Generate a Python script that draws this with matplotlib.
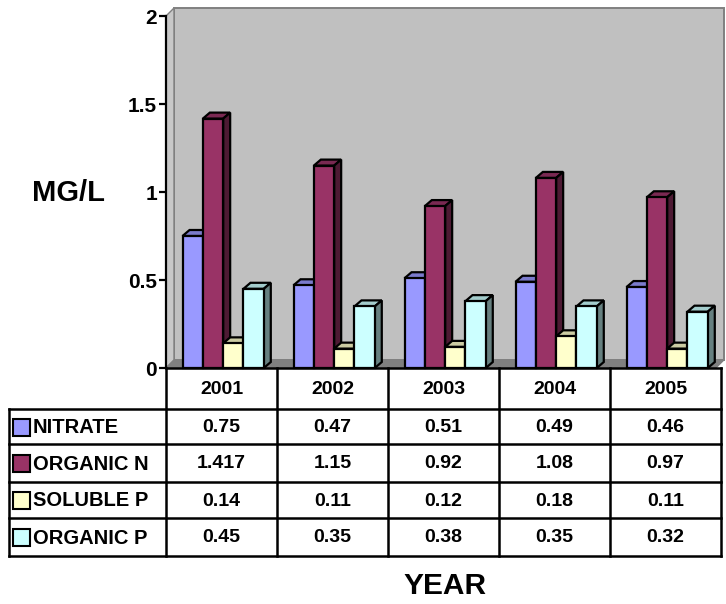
import matplotlib
matplotlib.use("Agg")
import matplotlib.pyplot as plt
from matplotlib.patches import Polygon, Rectangle
import matplotlib.transforms as mtransforms

plt.rcParams['font.family'] = ['Liberation Sans', 'DejaVu Sans']
plt.rcParams['font.weight'] = 'bold'

# ---- data -------------------------------------------------------------
years = ['2001', '2002', '2003', '2004', '2005']
series_names = ['NITRATE', 'ORGANIC N', 'SOLUBLE P', 'ORGANIC P']
nitrate = [0.75, 0.47, 0.51, 0.49, 0.46]
organic_n = [1.417, 1.15, 0.92, 1.08, 0.97]
soluble_p = [0.14, 0.11, 0.12, 0.18, 0.11]
organic_p = [0.45, 0.35, 0.38, 0.35, 0.32]
y_ticks = [0, 0.5, 1, 1.5, 2]

series_values = [nitrate, organic_n, soluble_p, organic_p]

# front / top / side shades for each series
front_cols = ['#9999FF', '#993366', '#FFFFCC', '#CCFFFF']
top_cols = ['#7A7ACC', '#7A2952', '#CCCCA3', '#A3CCCC']
side_cols = ['#4D4D80', '#4D1A33', '#808066', '#668080']

W, H = 726, 604
fig = plt.figure(figsize=(W / 100, H / 100), dpi=100)
fig.patch.set_facecolor('white')

# main plotting axes (front plane of the 3-D box)
ax_left, ax_right = 166, 721
ax_bottom, ax_top = 368, 16
ax = fig.add_axes([ax_left / W, 1 - ax_bottom / H,
                   (ax_right - ax_left) / W, (ax_bottom - ax_top) / H])
ax.set_xlim(-0.5, 4.5)
ax.set_ylim(0, 2)
ax.patch.set_visible(False)

px_x = (ax_right - ax_left) / 5.0      # pixels per category
px_y = (ax_bottom - ax_top) / 2.0      # pixels per unit

# wall / floor depth and bar depth, in data units
wdx, wdy = 8 / px_x, 8 / px_y
bdx, bdy = 7 / px_x, 6 / px_y
x0 = -0.5
x1 = -0.5 + (716 - ax_left) / px_x

# back wall, side wall and floor
ax.add_patch(Polygon([(x0 + wdx, wdy), (x1 + wdx, wdy), (x1 + wdx, 2 + wdy),
                      (x0 + wdx, 2 + wdy)], closed=True, facecolor='#C0C0C0',
                     edgecolor='#808080', lw=1.4, zorder=0.5, clip_on=False))
ax.add_patch(Polygon([(x0, 0), (x0, 2), (x0 + wdx, 2 + wdy), (x0 + wdx, wdy)],
                     closed=True, facecolor='#C8C8C8', edgecolor='#808080',
                     lw=1.0, zorder=0.6, clip_on=False))
ax.add_patch(Polygon([(x0, 0), (x1, 0), (x1 + wdx, wdy), (x0 + wdx, wdy)],
                     closed=True, facecolor='#808080', edgecolor='#808080',
                     lw=0.8, zorder=0.7, clip_on=False))

# 3-D columns
bar_w = 0.183
offset = 0.015
edge_lw = 1.6
for j, vals in enumerate(series_values):
    xs = [i + offset + (j - 1.5) * bar_w for i in range(len(years))]
    base_z = 3 + 2 * j
    bars = ax.bar(xs, vals, width=bar_w, color=front_cols[j],
                  edgecolor='black', linewidth=edge_lw, zorder=base_z + 1,
                  clip_on=False)
    for rect in bars:
        xl = rect.get_x()
        xr = xl + rect.get_width()
        h = rect.get_height()
        ax.add_patch(Polygon([(xl, h), (xr, h), (xr + bdx, h + bdy),
                              (xl + bdx, h + bdy)], closed=True,
                             facecolor=top_cols[j], edgecolor='black',
                             lw=edge_lw, zorder=base_z, clip_on=False))
        ax.add_patch(Polygon([(xr, 0), (xr, h), (xr + bdx, h + bdy),
                              (xr + bdx, bdy)], closed=True,
                             facecolor=side_cols[j], edgecolor='black',
                             lw=edge_lw, zorder=base_z, clip_on=False))

# value axis
for s in ['top', 'right', 'bottom']:
    ax.spines[s].set_visible(False)
ax.spines['left'].set_linewidth(1.6)
ax.spines['left'].set_zorder(20)
ax.set_xticks([])
ax.set_yticks(y_ticks)
ax.set_yticklabels([f'{t:g}' for t in y_ticks])
ax.tick_params(axis='y', direction='out', length=5, width=1.6,
               labelsize=15, pad=1.5)
for lab in ax.get_yticklabels():
    lab.set_fontweight('bold')

# ---- data table --------------------------------------------------------
ov = fig.add_axes([0, 0, 1, 1])
ov.set_xlim(0, W)
ov.set_ylim(H, 0)
ov.axis('off')
ov.patch.set_visible(False)
blend = mtransforms.blended_transform_factory(ax.transData, ov.transData)

tbl_left = 9
hdr_top = 368
row_edges = [hdr_top, 409, 444, 482, 518, 556]
lw_t = 1.8

# horizontal lines
ov.plot([ax_left, ax_right], [hdr_top, hdr_top], color='black', lw=lw_t)
for y in row_edges[1:]:
    ov.plot([tbl_left, ax_right], [y, y], color='black', lw=lw_t)
# vertical lines
for k in range(len(years) + 1):
    ov.plot([k - 0.5, k - 0.5], [hdr_top, row_edges[-1]], color='black',
            lw=lw_t, transform=blend)
ov.plot([tbl_left, tbl_left], [row_edges[1], row_edges[-1]], color='black',
        lw=lw_t)

# year header
hy = (row_edges[0] + row_edges[1]) / 2 + 1
for i, yr in enumerate(years):
    ov.text(i, hy, yr, transform=blend, ha='center', va='center',
            fontsize=14, fontweight='bold')

# rows: legend key, name and values
for j, (name, vals) in enumerate(zip(series_names, series_values)):
    yc = (row_edges[j + 1] + row_edges[j + 2]) / 2
    ov.add_patch(Rectangle((13, yc - 8), 17, 17, facecolor=front_cols[j],
                           edgecolor='black', lw=1.5))
    ov.text(33, yc + 1, name, ha='left', va='center', fontsize=14.5,
            fontweight='bold')
    for i, v in enumerate(vals):
        ov.text(i, yc + 1, f'{v:g}', transform=blend, ha='center',
                va='center', fontsize=14, fontweight='bold')

# axis titles
fig.text(68 / W, 1 - 193 / H, 'MG/L', ha='center', va='center',
         fontsize=21, fontweight='bold')
fig.text(445 / W, 1 - 586 / H, 'YEAR', ha='center', va='center',
         fontsize=21.5, fontweight='bold')

fig.savefig('out.png', dpi=100)
